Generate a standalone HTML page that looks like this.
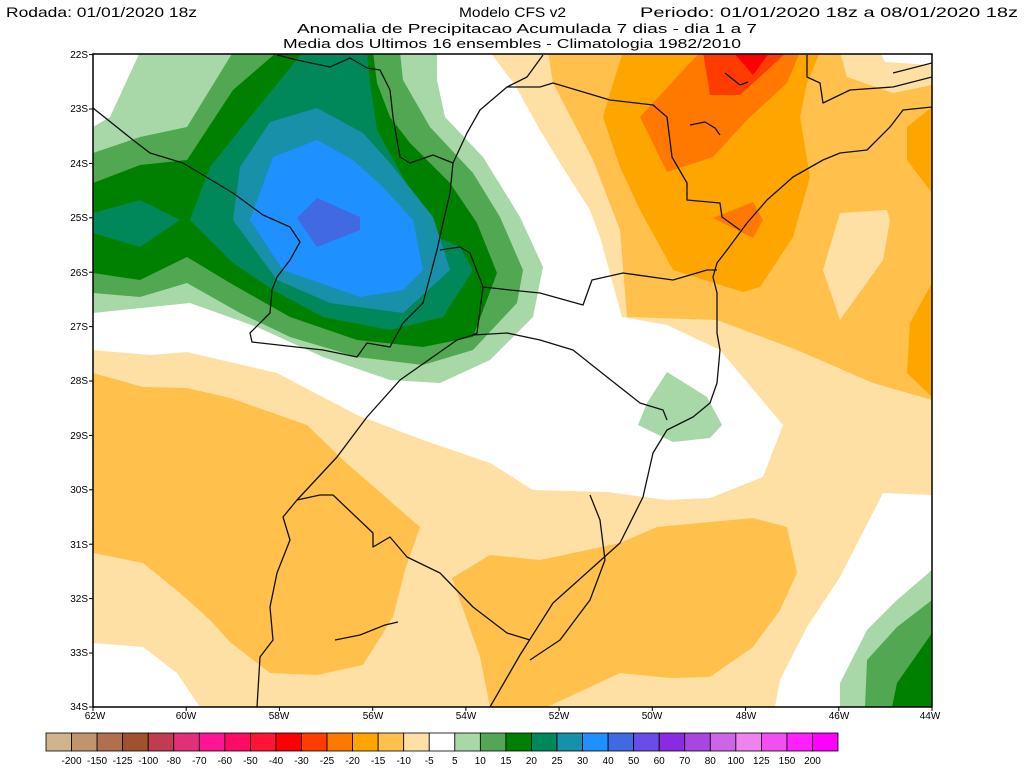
<!DOCTYPE html>
<html><head><meta charset="utf-8"><style>
html,body{margin:0;padding:0;background:#fff;width:1024px;height:770px;overflow:hidden}
svg{display:block}
text{font-family:"Liberation Sans",sans-serif;fill:#000}
</style></head><body>
<svg width="1024" height="770" viewBox="0 0 1024 770" xmlns="http://www.w3.org/2000/svg">
<defs><clipPath id="m"><rect x="93" y="54" width="839" height="653"/></clipPath></defs>
<g clip-path="url(#m)" stroke="none">
<rect x="93" y="54" width="839" height="653" fill="#ffe0a4"/>
<!-- whites -->
<polygon fill="#fff" points="93,54 140,54 110,117 93,127"/>
<polygon fill="#fff" points="380,52 490,52 515,85 540,130 560,163 590,210 600,237 622,317 667,325 720,350 783,425 763,477 710,498 667,500 607,492 533,490 490,463 423,440 357,415 277,373 187,352 150,355 93,350 93,290 300,250"/>
<polygon fill="#fff" points="93,643 143,647 177,673 200,707 93,707"/>
<polygon fill="#fff" points="883,493 932,495 932,707 775,707 780,680 807,627 840,577"/>
<!-- oranges -->
<polygon fill="#ffc04c" points="548,52 553,83 593,160 620,230 627,317 717,320 797,350 873,383 932,400 932,52"/>
<polygon fill="#ffe0a4" points="840,52 847,77 893,93 932,85 932,52"/>
<polygon fill="#fff" points="880,52 885,62 932,65 932,52"/>
<polygon fill="#ffe0a4" points="840,213 887,210 890,220 883,260 840,320 823,270"/>
<polygon fill="#ffc04c" points="93,373 143,387 187,388 230,398 307,425 343,460 420,527 405,570 393,617 363,665 317,675 270,673 230,642 210,620 180,593 143,563 93,553"/>
<polygon fill="#ffc04c" points="452,578 490,555 540,560 620,543 657,527 753,518 787,527 797,573 780,610 753,647 710,677 670,678 620,673 547,707 490,707 480,657"/>
<polygon fill="#ffa500" points="623,52 610,93 603,117 620,167 640,210 673,270 743,292 760,287 793,237 810,177 800,117 807,83 820,52"/>
<polygon fill="#ffa500" points="907,127 932,107 932,193 907,160"/>
<polygon fill="#ffa500" points="910,323 932,283 932,397 907,373"/>
<polygon fill="#ff7800" points="700,52 640,117 667,172 713,157 747,120 787,83 800,52"/>
<polygon fill="#ff7800" points="713,218 753,202 763,220 753,238"/>
<polygon fill="#ff3c00" points="703,52 710,95 740,95 787,52"/>
<polygon fill="#ff0000" points="733,52 753,75 770,52"/>
<!-- greens NW -->
<polygon fill="#a8d8a8" points="140,52 110,117 93,127 93,313 190,303 257,327 323,357 390,380 440,383 490,360 533,317 543,267 520,217 483,157 445,117 437,80 437,52"/>
<polygon fill="#52a852" points="233,52 187,127 140,137 93,153 93,293 140,297 187,283 240,313 290,337 357,357 423,365 473,350 517,303 523,270 500,217 473,173 430,127 403,80 400,52"/>
<polygon fill="#008000" points="277,52 233,90 187,160 140,165 93,183 93,273 140,280 187,257 230,283 290,317 357,340 423,347 473,337 497,273 477,223 450,183 410,143 390,117 377,83 373,52"/>
<polygon fill="#00875a" points="303,52 250,117 210,167 190,220 233,263 273,290 323,317 390,330 443,317 473,270 460,247 437,237 403,177 377,130 370,83 367,52"/>
<polygon fill="#00875a" points="93,213 140,200 180,220 140,247 93,233"/>
<polygon fill="#1890aa" points="317,108 270,122 240,167 233,220 277,280 330,303 403,313 450,270 433,217 390,163 363,133"/>
<polygon fill="#1e90ff" points="317,140 273,157 250,220 283,270 360,297 403,290 423,270 413,220 383,187 353,160"/>
<polygon fill="#4169e1" points="317,198 297,218 317,247 360,230 360,217"/>
<polygon fill="#a8d8a8" points="667,372 707,397 722,425 710,438 673,442 638,425 647,403"/>
<polygon fill="#a8d8a8" points="932,570 897,600 867,630 840,683 840,707 932,707"/>
<polygon fill="#52a852" points="932,600 897,627 867,660 865,707 932,707"/>
<polygon fill="#008000" points="932,633 897,683 892,707 932,707"/>
<g fill="none" stroke="#111" stroke-width="1.3" stroke-linejoin="round">
<polyline points="93,108 133,140 150,153 183,163 233,193 263,215 290,227 300,242 290,260 277,277 272,290 270,313 250,333 252,342 323,350 357,357 367,343 390,347 403,323 423,303 437,250 443,223 450,193 453,163"/>
<polyline points="277,55 297,60 330,67 350,58 367,68 380,70 390,90 393,117 400,157 410,163 433,155 453,163"/>
<polyline points="453,163 467,133 480,110 507,87 527,77 543,55"/>
<polyline points="507,87 540,87 553,83 610,100 653,105 667,117 672,157 687,183 687,200 720,203 722,217 740,230"/>
<polyline points="440,250 460,247 470,253 483,287 510,290 540,293 583,305 592,280 623,273 673,280 707,270 717,270"/>
<polyline points="483,287 477,333 473,335 507,333 540,340 573,350 607,377 640,403 663,410 667,420"/>
<polyline points="473,335 457,340 400,380 367,417 337,457 297,500 283,517 290,540 277,573 270,607 273,640 260,657 257,707"/>
<polyline points="297,500 320,495 333,495 373,533 373,547 390,537 407,557 440,573 473,607 507,633 530,640"/>
<polyline points="490,707 520,655 553,603 620,543 643,497 653,453 667,430 693,417 710,403 717,383 720,350 717,333 717,293 713,277 717,263 727,250 747,223 767,200 793,177 823,160 840,153 867,150 890,127 903,110 932,107"/>
<polyline points="807,55 807,77 820,83 823,103 850,90 893,87 932,77"/>
<polyline points="893,73 932,63"/>
<polyline points="590,495 600,520 605,560 590,600 560,640 530,660"/>
<polyline points="335,640 360,635 385,625 398,622"/>
<polyline points="690,125 705,122 715,128 720,135"/>
<polyline points="725,73 740,85 748,82"/>
</g>
</g>
<rect x="93" y="54" width="839" height="653" fill="none" stroke="#000" stroke-width="1.5"/>
<g font-size="10" text-anchor="end">
<g stroke="#000" stroke-width="1">
<line x1="89" y1="54.6" x2="93" y2="54.6"/><line x1="89" y1="109" x2="93" y2="109"/><line x1="89" y1="163.4" x2="93" y2="163.4"/><line x1="89" y1="217.8" x2="93" y2="217.8"/><line x1="89" y1="272.2" x2="93" y2="272.2"/><line x1="89" y1="326.6" x2="93" y2="326.6"/><line x1="89" y1="381" x2="93" y2="381"/><line x1="89" y1="435.4" x2="93" y2="435.4"/><line x1="89" y1="489.8" x2="93" y2="489.8"/><line x1="89" y1="544.2" x2="93" y2="544.2"/><line x1="89" y1="598.6" x2="93" y2="598.6"/><line x1="89" y1="653" x2="93" y2="653"/><line x1="89" y1="707" x2="93" y2="707"/>
</g>
<text x="88" y="58">22S</text><text x="88" y="112">23S</text><text x="88" y="167">24S</text><text x="88" y="221">25S</text><text x="88" y="276">26S</text><text x="88" y="330">27S</text><text x="88" y="384">28S</text><text x="88" y="439">29S</text><text x="88" y="493">30S</text><text x="88" y="548">31S</text><text x="88" y="602">32S</text><text x="88" y="656">33S</text><text x="88" y="710">34S</text>
</g>
<g font-size="10" text-anchor="middle">
<g stroke="#000" stroke-width="1">
<line x1="93" y1="707" x2="93" y2="711"/><line x1="186.2" y1="707" x2="186.2" y2="711"/><line x1="279.4" y1="707" x2="279.4" y2="711"/><line x1="372.7" y1="707" x2="372.7" y2="711"/><line x1="465.9" y1="707" x2="465.9" y2="711"/><line x1="559.1" y1="707" x2="559.1" y2="711"/><line x1="652.3" y1="707" x2="652.3" y2="711"/><line x1="745.6" y1="707" x2="745.6" y2="711"/><line x1="838.8" y1="707" x2="838.8" y2="711"/><line x1="932" y1="707" x2="932" y2="711"/>
</g>
<text x="95" y="719">62W</text><text x="186" y="719">60W</text><text x="279" y="719">58W</text><text x="373" y="719">56W</text><text x="466" y="719">54W</text><text x="559" y="719">52W</text><text x="652" y="719">50W</text><text x="746" y="719">48W</text><text x="839" y="719">46W</text><text x="930" y="719">44W</text>
</g>
<text x="6" y="17" font-size="14" textLength="191" lengthAdjust="spacingAndGlyphs">Rodada: 01/01/2020 18z</text>
<text x="459" y="17" font-size="14" textLength="107" lengthAdjust="spacingAndGlyphs">Modelo CFS v2</text>
<text x="640" y="17" font-size="14" textLength="378" lengthAdjust="spacingAndGlyphs">Periodo: 01/01/2020 18z a 08/01/2020 18z</text>
<text x="297" y="33" font-size="13" textLength="460" lengthAdjust="spacingAndGlyphs">Anomalia de Precipitacao Acumulada 7 dias - dia 1 a 7</text>
<text x="283" y="48" font-size="13" textLength="458" lengthAdjust="spacingAndGlyphs">Media dos Ultimos 16 ensembles - Climatologia 1982/2010</text>
<g stroke="#000" stroke-width="0.8">
<rect x="46" y="733" width="25.55" height="18" fill="#d2b48c"/>
<rect x="71.55" y="733" width="25.55" height="18" fill="#c0956b"/>
<rect x="97.1" y="733" width="25.55" height="18" fill="#b07050"/>
<rect x="122.65" y="733" width="25.55" height="18" fill="#a0522d"/>
<rect x="148.2" y="733" width="25.55" height="18" fill="#c03c50"/>
<rect x="173.75" y="733" width="25.55" height="18" fill="#e0307a"/>
<rect x="199.3" y="733" width="25.55" height="18" fill="#ff1493"/>
<rect x="224.85" y="733" width="25.55" height="18" fill="#ff0a64"/>
<rect x="250.4" y="733" width="25.55" height="18" fill="#ff1435"/>
<rect x="275.95" y="733" width="25.55" height="18" fill="#ff0000"/>
<rect x="301.5" y="733" width="25.55" height="18" fill="#ff3c00"/>
<rect x="327.05" y="733" width="25.55" height="18" fill="#ff7800"/>
<rect x="352.6" y="733" width="25.55" height="18" fill="#ffa500"/>
<rect x="378.15" y="733" width="25.55" height="18" fill="#ffc04c"/>
<rect x="403.7" y="733" width="25.55" height="18" fill="#ffe0a4"/>
<rect x="429.25" y="733" width="25.55" height="18" fill="#ffffff"/>
<rect x="454.8" y="733" width="25.55" height="18" fill="#a8d8a8"/>
<rect x="480.35" y="733" width="25.55" height="18" fill="#52a852"/>
<rect x="505.9" y="733" width="25.55" height="18" fill="#008000"/>
<rect x="531.45" y="733" width="25.55" height="18" fill="#00875a"/>
<rect x="557" y="733" width="25.55" height="18" fill="#1890aa"/>
<rect x="582.55" y="733" width="25.55" height="18" fill="#1e90ff"/>
<rect x="608.1" y="733" width="25.55" height="18" fill="#4169e1"/>
<rect x="633.65" y="733" width="25.55" height="18" fill="#6a4ce6"/>
<rect x="659.2" y="733" width="25.55" height="18" fill="#8a2be2"/>
<rect x="684.75" y="733" width="25.55" height="18" fill="#a846e0"/>
<rect x="710.3" y="733" width="25.55" height="18" fill="#cc66e6"/>
<rect x="735.85" y="733" width="25.55" height="18" fill="#ee82ee"/>
<rect x="761.4" y="733" width="25.55" height="18" fill="#f050f0"/>
<rect x="786.95" y="733" width="25.55" height="18" fill="#ff20ff"/>
<rect x="812.5" y="733" width="25.5" height="18" fill="#ff00ff"/>
</g>
<g font-size="10" text-anchor="middle">
<text x="71.5" y="764">-200</text><text x="97" y="764">-150</text><text x="122.6" y="764">-125</text><text x="148.2" y="764">-100</text><text x="173.7" y="764">-80</text><text x="199.3" y="764">-70</text><text x="224.8" y="764">-60</text><text x="250.4" y="764">-50</text><text x="276" y="764">-40</text><text x="301.5" y="764">-30</text><text x="327" y="764">-25</text><text x="352.6" y="764">-20</text><text x="378.1" y="764">-15</text><text x="403.7" y="764">-10</text><text x="429.2" y="764">-5</text><text x="454.8" y="764">5</text><text x="480.3" y="764">10</text><text x="505.9" y="764">15</text><text x="531.4" y="764">20</text><text x="557" y="764">25</text><text x="582.5" y="764">30</text><text x="608.1" y="764">40</text><text x="633.6" y="764">50</text><text x="659.2" y="764">60</text><text x="684.7" y="764">70</text><text x="710.3" y="764">80</text><text x="735.8" y="764">100</text><text x="761.4" y="764">125</text><text x="787" y="764">150</text><text x="812.5" y="764">200</text>
</g>
</svg>
</body></html>
